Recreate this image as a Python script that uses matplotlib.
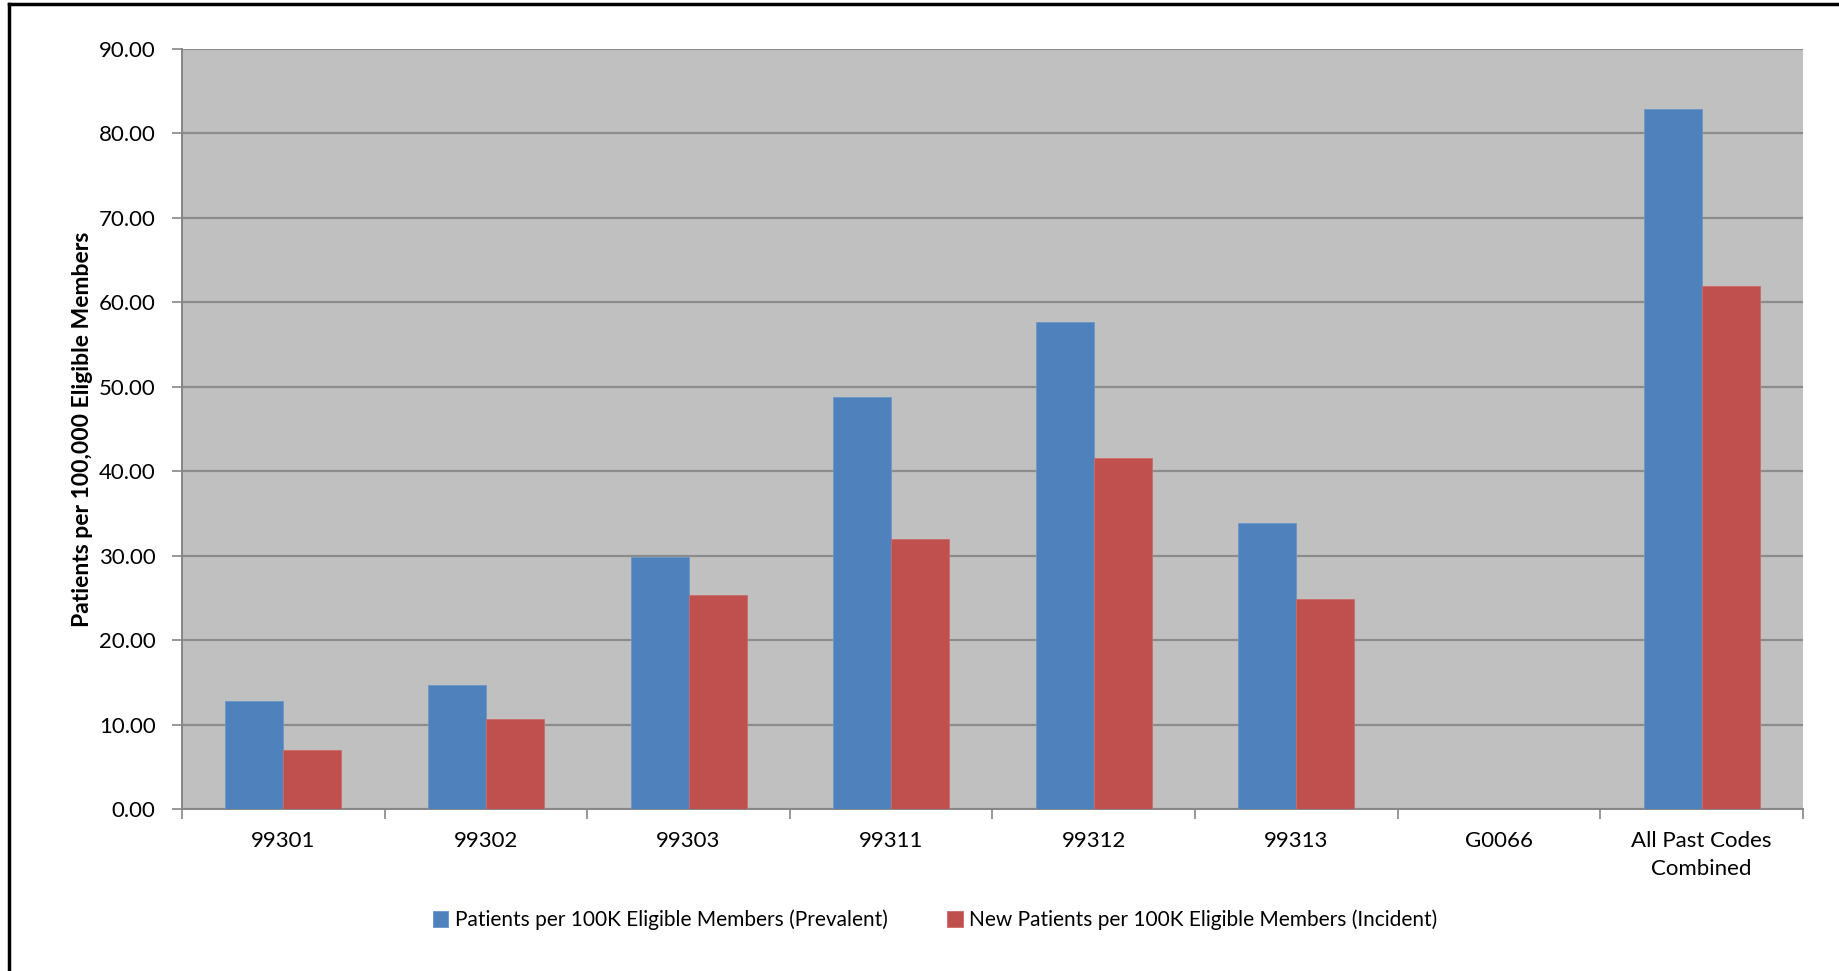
import numpy as np
import matplotlib.pyplot as plt
from matplotlib.lines import Line2D

# ---------------------- data ----------------------
codes = ["99301", "99302", "99303", "99311", "99312", "99313", "G0066",
         "All Past Codes\nCombined"]
prevalent = [12.8, 14.7, 29.9, 48.8, 57.7, 33.9, 0.0, 82.9]
incident = [7.0, 10.7, 25.3, 32.0, 41.6, 24.9, 0.0, 61.9]
y_ticks = [0, 10, 20, 30, 40, 50, 60, 70, 80, 90]

series_names = ["Patients per 100K Eligible Members (Prevalent)",
                "New Patients per 100K Eligible Members (Incident)"]

plt.rcParams['font.family'] = ['Lato', 'DejaVu Sans']

fig = plt.figure(figsize=(18.4, 9.71), dpi=100)
ax = fig.add_axes([182 / 1840, 1 - 809 / 971, (1803 - 182) / 1840, (809 - 49) / 971])

x = np.arange(len(codes))
w = 0.286
ax.bar(x - w / 2, prevalent, w, color="#4F81BD", edgecolor="#6a95c8", linewidth=0.6,
       label=series_names[0], zorder=3)
ax.bar(x + w / 2, incident, w, color="#C0504D", edgecolor="#cc6b68", linewidth=0.6,
       label=series_names[1], zorder=3)

ax.set_facecolor("#C0C0C0")
ax.set_xlim(-0.5, len(codes) - 0.5)
ax.set_ylim(0, 90)
ax.set_yticks(y_ticks)
ax.set_yticklabels([f"{v:.2f}" for v in y_ticks])
ax.grid(axis="y", color="#8c8c8c", linewidth=1.6, zorder=1)
ax.set_axisbelow(True)

# category boundaries get the tick marks, labels sit at centres
ax.set_xticks(np.arange(-0.5, len(codes)), minor=False)
ax.set_xticklabels([])
ax.set_xticks(x, minor=True)
ax.set_xticklabels(codes, minor=True, fontsize=16, linespacing=1.5)
ax.tick_params(axis="x", which="major", length=7, width=1.2, color="#868686")
ax.tick_params(axis="x", which="minor", length=0, pad=16)
ax.tick_params(axis="y", length=7, width=1.2, color="#868686", labelsize=16, pad=12)

for s in ["top", "right"]:
    ax.spines[s].set_visible(False)
for s in ["left", "bottom"]:
    ax.spines[s].set_color("#868686")
    ax.spines[s].set_linewidth(1.4)

ax.set_ylabel("Patients per 100,000 Eligible Members", fontsize=16.5, fontweight="bold")
ax.yaxis.set_label_coords((93 - 182) / 1621, 0.5)

fig.legend(loc="center", bbox_to_anchor=(935 / 1840, 1 - 920 / 971), ncol=2,
           frameon=False, fontsize=15, handlelength=0.75, handleheight=0.75,
           handletextpad=0.3, columnspacing=2.85)

# black frame on left and top edges
fig.add_artist(Line2D([9 / 1840, 9 / 1840], [0, 1 - 4 / 971], color="black", linewidth=2.5,
                      transform=fig.transFigure))
fig.add_artist(Line2D([9 / 1840, 1], [1 - 4 / 971, 1 - 4 / 971], color="black", linewidth=2.5,
                      transform=fig.transFigure))

fig.savefig("out.png", dpi=100)
